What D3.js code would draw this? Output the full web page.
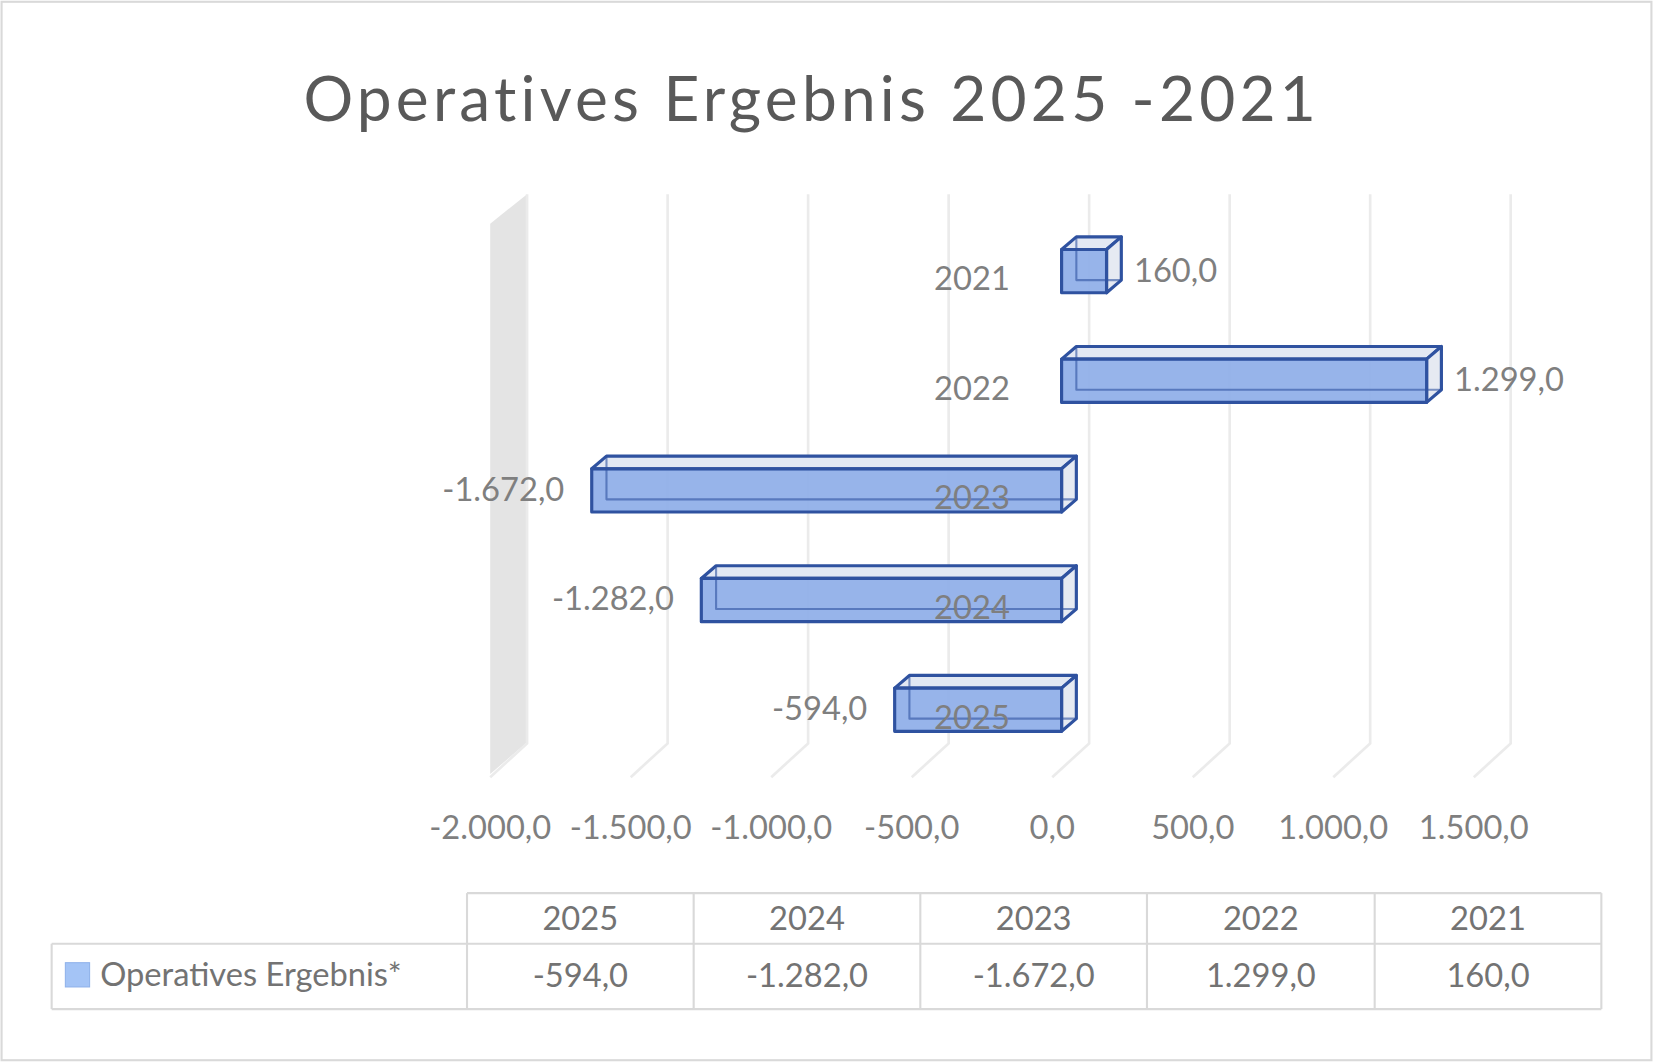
<!DOCTYPE html><html><head><meta charset="utf-8"><script src="https://cdn.jsdelivr.net/npm/d3@7"></script>
<style>body{margin:0;background:#fff}</style></head><body><svg id="c"></svg><script>
const categories=["2021","2022","2023","2024","2025"];
const values=[160,1299,-1672,-1282,-594];
const tableYears=["2025","2024","2023","2022","2021"];
const tableVals=[-594,-1282,-1672,1299,160];
const ticks=[-2000,-1500,-1000,-500,0,500,1000,1500];
const seriesName="Operatives Ergebnis*";
const fmt=v=>{const s=Math.abs(v).toFixed(1).split(".");return (v<0?"-":"")+s[0].replace(/\B(?=(\d{3})+(?!\d))/g,".")+","+s[1];};
const F="Lato, 'Open Sans', sans-serif";
const svg=d3.select("#c").attr("width",1653).attr("height",1062).attr("viewBox","0 0 1568 1007");
svg.append("rect").attr("x",1.5).attr("y",1.5).attr("width",1565).attr("height",1004).attr("fill","#fff").attr("stroke","#d9d9d9").attr("stroke-width",2);
svg.append("text").attr("x",770).attr("y",115).attr("text-anchor","middle").attr("font-family",F).attr("font-size",59).attr("letter-spacing",4).attr("fill","#595959").text("Operatives Ergebnis 2025 -2021");
const xb=d3.scaleLinear().domain([-2000,1500]).range([500,1433]);
const xf=v=>xb(v)-35;
svg.append("polygon").attr("points",[[465,212],[500,184],[500,704],[465,734]].join(" ")).attr("fill","#e4e4e4");
ticks.forEach(t=>{
 svg.append("polyline").attr("points",[[xb(t),184],[xb(t),705],[xf(t),737]].join(" ")).attr("fill","none").attr("stroke","#ebebeb").attr("stroke-width",2.5);
 svg.append("text").attr("x",xf(t)).attr("y",796).attr("text-anchor","middle").attr("font-family",F).attr("font-size",31).attr("fill","#7f7f7f").text(fmt(t));
});
const y=d3.scaleBand().domain(categories).range([185,705]).paddingInner(0.6).paddingOuter(0.3);
const x=d3.scaleLinear().domain([0,1]).range([0,xb(1)-xb(0)]);
const z0=1007,dx=14,dy=-12,h=41;
categories.forEach((c,i)=>{
 const v=values[i],a=z0+Math.min(0,x(v)),b=z0+Math.max(0,x(v)),t=y(c)+y.bandwidth()/2-h/2+20,bt=t+h;
 const g=svg.append("g").attr("stroke","#2f52a0").attr("stroke-width",3).attr("stroke-linejoin","round");
 g.append("polygon").attr("points",[[a,t],[a+dx,t+dy],[b+dx,t+dy],[b,t]].join(" ")).attr("fill","#e2e8f3");
 g.append("polygon").attr("points",[[b,t],[b+dx,t+dy],[b+dx,bt+dy],[b,bt]].join(" ")).attr("fill","#e6eaf2");
 g.append("rect").attr("x",a).attr("y",t).attr("width",b-a).attr("height",h).attr("fill","#8eaee8").attr("fill-opacity",0.92);
 g.append("polyline").attr("points",[[a+dx,t+dy],[a+dx,bt+dy],[b+dx,bt+dy]].join(" ")).attr("fill","none").attr("stroke-width",2).attr("stroke-opacity",0.6);
 svg.append("text").attr("x",v>=0?b+dx+12:a-26).attr("y",t+h/2+2).attr("text-anchor",v>=0?"start":"end").attr("dominant-baseline","middle").attr("font-family",F).attr("font-size",31).attr("fill","#7f7f7f").text(fmt(v));
 svg.append("text").attr("x",958).attr("y",t+h/2+10).attr("text-anchor","end").attr("dominant-baseline","middle").attr("font-family",F).attr("font-size",31).attr("fill","#7f7f7f").text(c);
});
const cx=[443,658,873,1088,1304,1519],L="#d9d9d9";
const tg=svg.append("g").attr("stroke",L).attr("stroke-width",2);
tg.append("line").attr("x1",443).attr("x2",1519).attr("y1",847).attr("y2",847);
tg.append("line").attr("x1",49).attr("x2",1519).attr("y1",895).attr("y2",895);
tg.append("line").attr("x1",49).attr("x2",1519).attr("y1",957).attr("y2",957);
tg.append("line").attr("x1",49).attr("x2",49).attr("y1",895).attr("y2",957);
cx.forEach(X=>tg.append("line").attr("x1",X).attr("x2",X).attr("y1",847).attr("y2",957));
tableYears.forEach((yr,i)=>{
 const m=(cx[i]+cx[i+1])/2;
 svg.append("text").attr("x",m).attr("y",882).attr("text-anchor","middle").attr("font-family",F).attr("font-size",31).attr("fill","#737373").text(yr);
 svg.append("text").attr("x",m).attr("y",936).attr("text-anchor","middle").attr("font-family",F).attr("font-size",31).attr("fill","#737373").text(fmt(tableVals[i]));
});
svg.append("rect").attr("x",62).attr("y",913).attr("width",23).attr("height",23).attr("fill","#a4c4f6").attr("stroke","#8fb2ea");
svg.append("text").attr("x",95).attr("y",935).attr("font-family",F).attr("font-size",31).attr("fill","#737373").text(seriesName);
</script></body></html>
